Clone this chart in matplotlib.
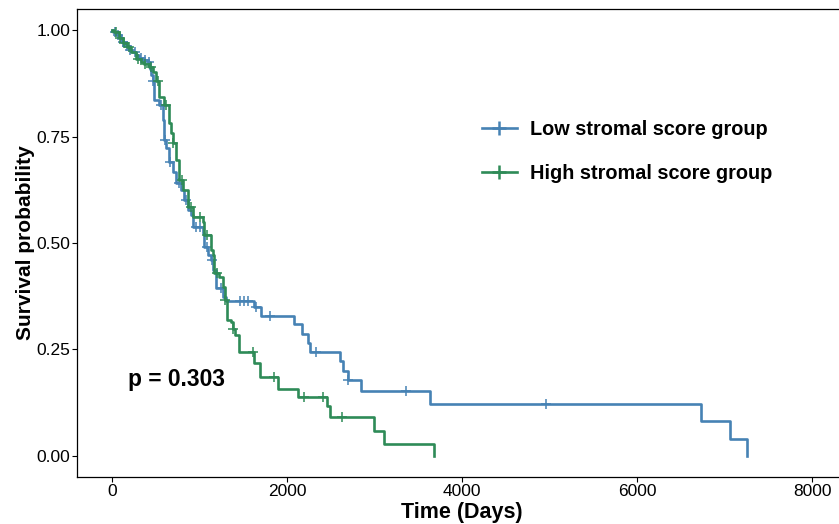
import matplotlib
matplotlib.use("Agg")
import matplotlib.pyplot as plt
from matplotlib.lines import Line2D
import numpy as np

plt.rcParams['font.family'] = ['Liberation Sans', 'DejaVu Sans']

# Low stromal score group: event times (days) and survival after each event
low_time = [0, 11, 57, 103, 148, 194, 228, 274, 308, 354, 411, 433, 445, 468, 479,
            536, 582, 593, 616, 650, 696, 730, 787, 821, 867, 901, 924, 1038, 1050,
            1095, 1129, 1152, 1186, 1266, 1300, 1620, 1700, 2076, 2168, 2236, 2259,
            2601, 2635, 2692, 2841, 3639, 6731, 7062, 7255]
low_surv = [1.0, 0.995, 0.988, 0.972, 0.962, 0.953, 0.948, 0.941, 0.934, 0.929, 0.925,
            0.908, 0.896, 0.880, 0.837, 0.825, 0.790, 0.743, 0.724, 0.691, 0.667,
            0.642, 0.625, 0.601, 0.578, 0.566, 0.538, 0.524, 0.491, 0.472, 0.460,
            0.436, 0.394, 0.373, 0.363, 0.349, 0.328, 0.309, 0.285, 0.264, 0.243,
            0.222, 0.200, 0.179, 0.153, 0.122, 0.081, 0.040, 0.0]
low_cens = [30, 70, 120, 170, 210, 260, 330, 380, 420, 470, 560, 600, 660, 760, 850,
            960, 1000, 1090, 1140, 1250, 1460, 1506, 1552, 1643, 1802, 2327, 2692,
            3365, 4962]

# High stromal score group
high_time = [0, 23, 80, 125, 171, 217, 240, 274, 331, 365, 422, 468, 502, 536, 593,
             650, 673, 696, 730, 764, 810, 867, 924, 1038, 1050, 1129, 1152, 1164,
             1221, 1266, 1289, 1312, 1358, 1380, 1403, 1449, 1620, 1688, 1894, 2122,
             2453, 2487, 2989, 3103, 3685]
high_surv = [1.0, 0.995, 0.983, 0.969, 0.960, 0.950, 0.948, 0.932, 0.925, 0.920, 0.913,
             0.901, 0.880, 0.842, 0.825, 0.783, 0.759, 0.736, 0.696, 0.649, 0.625,
             0.585, 0.561, 0.550, 0.519, 0.483, 0.472, 0.429, 0.420, 0.396, 0.366,
             0.318, 0.314, 0.297, 0.283, 0.243, 0.217, 0.184, 0.156, 0.137, 0.116,
             0.092, 0.059, 0.028, 0.0]
high_cens = [40, 90, 140, 190, 300, 380, 450, 520, 620, 700, 800, 900, 1000, 1080,
             1200, 1290, 1380, 1609, 1848, 2190, 2407, 2624]

p_label = "p = 0.303"

blue = "#4682B4"
green = "#2E8B57"


def surv_at(times, surv, t):
    idx = np.searchsorted(times, t, side="right") - 1
    return np.asarray(surv)[idx]


fig = plt.figure(figsize=(8.39, 5.24), dpi=100)
ax = fig.add_axes([77 / 839, (524 - 477) / 524, 770 / 839, 468 / 524])

for t, s, c, col in [(low_time, low_surv, low_cens, blue),
                     (high_time, high_surv, high_cens, green)]:
    ax.step(t, s, where="post", color=col, lw=1.9)
    ax.plot(c, surv_at(t, s, c), ls="none", marker="+", ms=7, mew=1.1, color=col)

ax.set_xlim(-400, 8400)
ax.set_ylim(-0.05, 1.05)
ax.set_xticks([0, 2000, 4000, 6000, 8000])
ax.set_yticks([0, 0.25, 0.5, 0.75, 1.0])
ax.set_yticklabels(["0.00", "0.25", "0.50", "0.75", "1.00"])
ax.tick_params(labelsize=12.5, length=3.5, width=0.8, colors="black", pad=1.5)
ax.spines["right"].set_visible(False)
for sp in ["left", "bottom", "top"]:
    ax.spines[sp].set_linewidth(0.9)

ax.set_xlabel("Time (Days)", fontsize=15.5, fontweight="bold", labelpad=2)
ax.set_ylabel("Survival probability", fontsize=15, fontweight="bold", labelpad=1)

ax.text(183, 0.18, p_label, fontsize=16.4, fontweight="bold", va="center", ha="left")

handles = [Line2D([], [], color=blue, lw=1.9, marker="+", ms=10, mew=1.8),
           Line2D([], [], color=green, lw=1.9, marker="+", ms=10, mew=1.8)]
fig.legend(handles, ["Low stromal score group", "High stromal score group"],
           loc="upper left", bbox_to_anchor=(482 / 839, 1 - 120 / 524),
           frameon=False, prop={"size": 14.3, "weight": "bold"},
           handlelength=1.75, handletextpad=0.65, labelspacing=1.25,
           borderpad=0, borderaxespad=0)

fig.savefig("out.png", dpi=100)
